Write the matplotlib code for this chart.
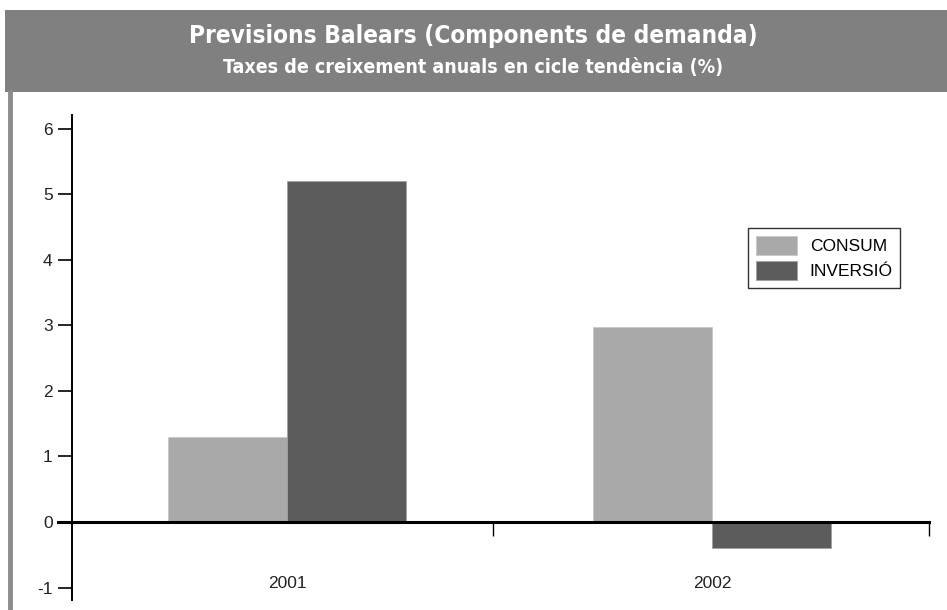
import matplotlib.pyplot as plt
from matplotlib.patches import Rectangle
from matplotlib.lines import Line2D
import numpy as np

years = ["2001", "2002"]
consum = [1.3, 2.97]
inversio = [5.2, -0.4]
series_labels = ["CONSUM", "INVERSIÓ"]
y_ticks = [-1, 0, 1, 2, 3, 4, 5, 6]

plt.rcParams['font.family'] = ['Liberation Sans', 'DejaVu Sans']

fig = plt.figure(figsize=(9.47, 6.10), dpi=100)
fig.patch.set_facecolor('white')

# title banner and left border
fig.patches.append(Rectangle((5 / 947, 1 - 92 / 610), 1, 82 / 610,
                             transform=fig.transFigure, facecolor='#808080',
                             edgecolor='none', zorder=0))
fig.lines.append(Line2D([10 / 947, 10 / 947], [0, 1 - 92 / 610],
                        transform=fig.transFigure, color='#8c8c8c', lw=3.5))
title_font = dict(family=['DejaVu Sans'], stretch='condensed',
                  weight='bold', color='white', ha='center', va='center')
fig.text(0.5, 1 - 36 / 610, "Previsions Balears (Components de demanda)",
         fontsize=17.5, **title_font)
fig.text(0.5, 1 - 68 / 610, "Taxes de creixement anuals en cicle tendència (%)",
         fontsize=14, **title_font)

ax = fig.add_axes([72 / 947, 1 - 600 / 610, 857 / 947, 485 / 610])
x = np.arange(len(years))
w = 0.28
ax.bar(x - w / 2, consum, w, color='#a9a9a9', edgecolor='#c8c8c8', lw=0.6,
       label=series_labels[0], zorder=2)
ax.bar(x + w / 2, inversio, w, color='#5c5c5c', edgecolor='#a0a0a0', lw=0.6,
       label=series_labels[1], zorder=2)

ax.set_xlim(-0.506, 1.511)
ax.set_ylim(-1.19, 6.21)

for s in ['top', 'right']:
    ax.spines[s].set_visible(False)
ax.spines['left'].set_linewidth(1.4)
ax.spines['bottom'].set_position(('data', 0))
ax.spines['bottom'].set_linewidth(2.2)
ax.spines['bottom'].set_bounds(-0.54, 1.511)
ax.spines['bottom'].set_zorder(3)

ax.set_yticks(y_ticks)
ax.set_yticklabels([str(v) for v in y_ticks], fontsize=12.5, color='#222222')
ax.tick_params(axis='y', direction='out', length=10, width=1.2, pad=4)

ax.set_xticks([0.485, 1.511])
ax.set_xticklabels([])
ax.tick_params(axis='x', which='major', direction='out', length=10, width=1.0)
ax.set_xticks(x, minor=True)
ax.set_xticklabels(years, minor=True, fontsize=12.5, color='#222222')
ax.tick_params(axis='x', which='minor', length=0, pad=39)

leg = ax.legend(loc='upper left', fontsize=12.5, frameon=True,
                fancybox=False, handlelength=2.4, handleheight=1.3,
                borderpad=0.45, labelspacing=0.35, handletextpad=0.7,
                borderaxespad=0)
leg.get_frame().set_edgecolor('black')
leg.get_frame().set_linewidth(1.0)
leg.set_bbox_to_anchor(((748 - 72) / 857, (600 - 228) / 485), transform=ax.transAxes)

fig.savefig("out.png", dpi=100)
